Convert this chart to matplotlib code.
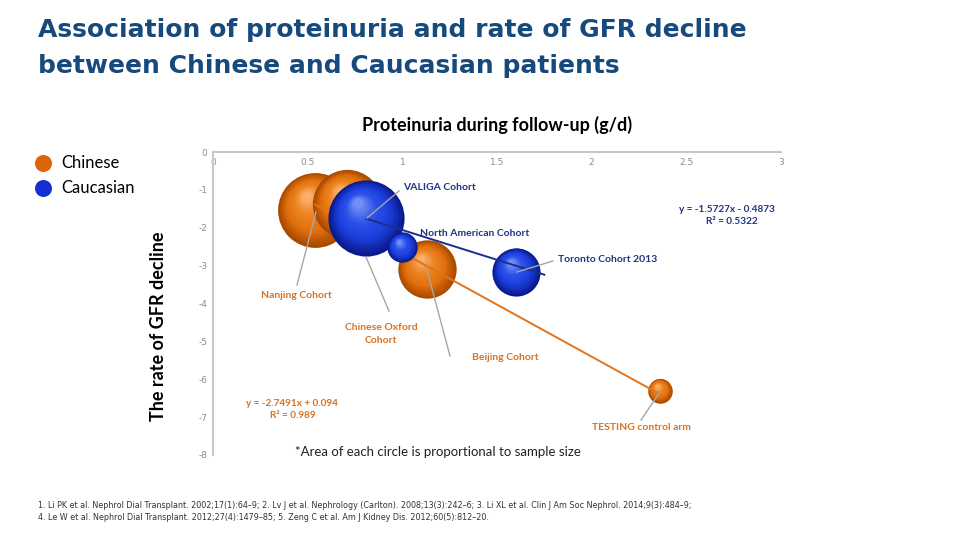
import numpy as np
import matplotlib
matplotlib.use("Agg")
import matplotlib.pyplot as plt
import matplotlib.transforms as mtransforms
from matplotlib.colors import to_rgb

# data
chinese_names = ["Nanjing", "Chinese Oxford", "Beijing", "TESTING"]
chinese_x = [0.54, 0.71, 1.13, 2.36]
chinese_y = [-1.53, -1.38, -3.10, -6.30]
chinese_size = [1400, 1200, 850, 150]

caucasian_names = ["VALIGA", "North American", "Toronto 2013"]
caucasian_x = [0.81, 1.00, 1.60]
caucasian_y = [-1.74, -2.52, -3.16]
caucasian_size = [1450, 230, 580]

chinese_fit = (-2.7491, 0.094, 0.989)
caucasian_fit = (-1.5727, -0.4873, 0.5322)

x_ticks = [0, 0.5, 1, 1.5, 2, 2.5, 3]
y_ticks = [0, -1, -2, -3, -4, -5, -6, -7, -8]

ORANGE = ["#a84a00", "#e2700c", "#ec8424", "#fbae6a"]
BLUE = ["#0a1a8c", "#1c3ddc", "#2c52ea", "#7490f5"]
ORANGE_TXT = "#d9721f"
BLUE_TXT = "#1f3580"
GREY = "#a6a6a6"

fig = plt.figure(figsize=(9.6, 5.43), dpi=100)
fig.patch.set_facecolor("white")
ax = fig.add_axes([213 / 960, 88 / 543, 568 / 960, 303 / 543])
ax.set_xlim(0, 3)
ax.set_ylim(-8, 0)
for s in ["right", "bottom"]:
    ax.spines[s].set_visible(False)
for s in ["top", "left"]:
    ax.spines[s].set_color("#c8c8c8")
    ax.spines[s].set_linewidth(1.5)
ax.xaxis.tick_top()
ax.set_xticks(x_ticks)
ax.set_xticklabels(["0", "0.5", "1", "1.5", "2", "2.5", "3"])
ax.set_yticks(y_ticks)
ax.set_yticklabels([str(v) for v in y_ticks])
ax.tick_params(axis="x", length=0, pad=-11, labelsize=6.5, labelcolor="#8c8c8c")
ax.tick_params(axis="y", length=0, pad=4, labelsize=6.5, labelcolor="#8c8c8c")
ax.patch.set_alpha(0)


def mix(cols, t):
    pts = np.linspace(0, 1, len(cols))
    rgb = np.array([to_rgb(c) for c in cols])
    return tuple(np.interp(t, pts, rgb[:, k]) for k in range(3))


def sphere(x, y, size, cols, z):
    r = np.sqrt(size)  # radius in pixels
    n = 18
    for i in range(n):
        t = i / (n - 1)
        ri = r * (1 - 0.88 * t)
        tr = mtransforms.offset_copy(ax.transData, fig=fig,
                                     x=-0.22 * r * t, y=0.38 * r * t, units="dots")
        ax.scatter([x], [y], s=(2 * ri * 0.72) ** 2, color=mix(cols, t),
                   transform=tr, zorder=z + i * 0.001, linewidths=0)


for i in range(len(chinese_x)):
    sphere(chinese_x[i], chinese_y[i], chinese_size[i], ORANGE, 2 + i * 0.1)

xs = np.array([min(chinese_x), max(chinese_x)])
ax.plot(xs, chinese_fit[0] * xs + chinese_fit[1], color="#e0741e", lw=1.4, zorder=2.9)

for i in range(len(caucasian_x)):
    sphere(caucasian_x[i], caucasian_y[i], caucasian_size[i], BLUE, 3 + i * 0.1)

xs = np.array([min(caucasian_x), 1.75])
ax.plot(xs, caucasian_fit[0] * xs + caucasian_fit[1], color="#1a2f8a", lw=1.4, zorder=3.9)


def px(xp, yp):
    return ((xp - 213) / 568 * 3, -(yp - 152) / 303 * 8)


def leader(p0, p1):
    a, b = px(*p0), px(*p1)
    ax.plot([a[0], b[0]], [a[1], b[1]], color=GREY, lw=1.0, zorder=5)


lab = dict(fontsize=7.5, fontweight="bold", family="Lato", zorder=6)
leader((316, 212), (297, 285))
ax.text(*px(296, 296), "Nanjing Cohort", color=ORANGE_TXT, ha="center", va="center", **lab)
leader((366, 257), (389, 311))
ax.text(*px(381, 334), "Chinese Oxford\nCohort", color=ORANGE_TXT, ha="center", va="center",
        linespacing=1.5, **lab)
leader((427, 270), (450, 356))
ax.text(*px(472, 358), "Beijing Cohort", color=ORANGE_TXT, ha="left", va="center", **lab)
leader((660, 392), (641, 420))
ax.text(*px(641, 428), "TESTING control arm", color=ORANGE_TXT, ha="center", va="center", **lab)
leader((367, 218), (399, 191))
ax.text(*px(403, 188), "VALIGA Cohort", color=BLUE_TXT, ha="left", va="center", **lab)
ax.text(*px(420, 233), "North American Cohort", color=BLUE_TXT, ha="left", va="center", **lab)
leader((517, 272), (553, 261))
ax.text(*px(558, 259), "Toronto Cohort 2013", color=BLUE_TXT, ha="left", va="center", **lab)

eq = dict(fontsize=7.2, fontweight="bold", family="Lato", ha="center", va="center", zorder=6)
ax.text(*px(727, 209), "y = %.4fx - %.4f" % (caucasian_fit[0], -caucasian_fit[1]), color=BLUE_TXT, **eq)
ax.text(*px(732, 221), "R² = %.4f" % caucasian_fit[2], color=BLUE_TXT, **eq)
ax.text(*px(292, 403), "y = %.4fx + %.3f" % (chinese_fit[0], chinese_fit[1]), color=ORANGE_TXT, **eq)
ax.text(*px(293, 415), "R² = %.3f" % chinese_fit[2], color=ORANGE_TXT, **eq)

ax.text(*px(438, 452), "*Area of each circle is proportional to sample size",
        fontsize=9.5, family="Lato", ha="center", va="center", color="#222222")

# titles
fig.text(38 / 960, 1 - 30 / 543, "Association of proteinuria and rate of GFR decline",
         fontsize=18, fontweight="bold", color="#174a7c", family="DejaVu Sans", va="center")
fig.text(38 / 960, 1 - 66 / 543, "between Chinese and Caucasian patients",
         fontsize=18, fontweight="bold", color="#174a7c", family="DejaVu Sans", va="center")
fig.text(497 / 960, 1 - 125 / 543, "Proteinuria during follow-up (g/d)",
         fontsize=13, fontweight="bold", family="Lato", ha="center", va="center")
fig.text(158 / 960, 1 - 326 / 543, "The rate of GFR decline", rotation=90,
         fontsize=13, fontweight="bold", family="Lato", ha="center", va="center")

# legend
lax = fig.add_axes([0, 0, 1, 1], zorder=-1)
lax.set_xlim(0, 960)
lax.set_ylim(543, 0)
lax.axis("off")
lax.scatter([43], [163], s=150, color="#e0640c", linewidths=0)
lax.scatter([43], [188], s=150, color="#1530d0", linewidths=0)
lax.text(61, 163, "Chinese", fontsize=12, family="Lato", va="center")
lax.text(61, 188, "Caucasian", fontsize=12, family="Lato", va="center")

# references
fig.text(38 / 960, 1 - 505 / 543,
         "1. Li PK et al. Nephrol Dial Transplant. 2002;17(1):64–9; 2. Lv J et al. Nephrology (Carlton). 2008;13(3):242–6; "
         "3. Li XL et al. Clin J Am Soc Nephrol. 2014;9(3):484–9;",
         fontsize=5.8, family="DejaVu Sans", va="center", color="#333333")
fig.text(38 / 960, 1 - 518 / 543,
         "4. Le W et al. Nephrol Dial Transplant. 2012;27(4):1479–85; 5. Zeng C et al. Am J Kidney Dis. 2012;60(5):812–20.",
         fontsize=5.8, family="DejaVu Sans", va="center", color="#333333")

fig.savefig("out.png", dpi=100, facecolor="white")
